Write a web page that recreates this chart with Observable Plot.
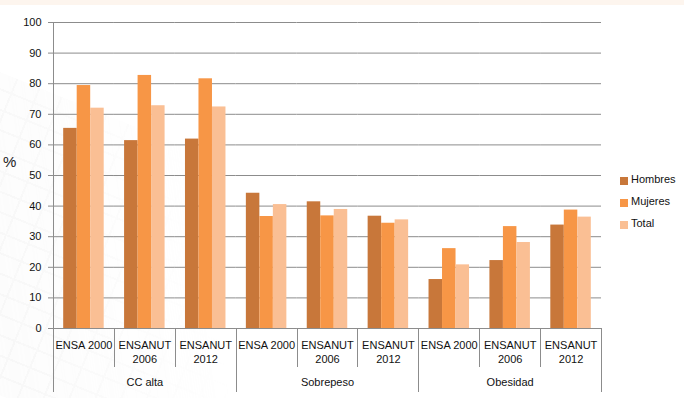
<!DOCTYPE html>
<html><head><meta charset="utf-8">
<script src="https://cdn.jsdelivr.net/npm/d3@7"></script>
<script src="https://cdn.jsdelivr.net/npm/@observablehq/plot@0.6"></script>
<style>
body{margin:0;background:#fff;font-family:"Liberation Sans",sans-serif}
#wrap{position:relative;width:684px;height:398px;overflow:hidden;background:#fff}
#band{position:absolute;left:0;top:0;width:684px;height:5px;background:#fdf5ee}
#tiles{position:absolute;left:-120px;top:120px;width:420px;height:300px;transform:rotate(22deg);
  background-image:repeating-linear-gradient(0deg,transparent 0 17px,#ececec 17px 19px),repeating-linear-gradient(90deg,transparent 0 22px,#ececec 22px 24px);
  background-color:#f8f8f8;opacity:.55;
  -webkit-mask-image:linear-gradient(60deg,rgba(0,0,0,1) 0%,rgba(0,0,0,.6) 40%,rgba(0,0,0,0) 75%);
  mask-image:linear-gradient(60deg,rgba(0,0,0,1) 0%,rgba(0,0,0,.6) 40%,rgba(0,0,0,0) 75%)}
#chart{position:absolute;left:0;top:0}
#pct{position:absolute;left:3px;top:153px;font-size:15px;color:#222}
#legend{position:absolute;left:620px;top:173px;font-size:11px;color:#111}
#legend div{height:22px;display:flex;align-items:flex-start}
#legend span.sw{display:inline-block;width:8px;height:8px;margin-top:4px;margin-right:3px}
</style></head>
<body>
<div id="wrap"><div id="band"></div><div id="tiles"></div><div id="chart"></div><div id="pct">%</div><div id="legend"></div></div>
<script>
const categories = ["CC alta", "Sobrepeso", "Obesidad"];
const surveys = ["ENSA 2000", "ENSANUT\n2006", "ENSANUT\n2012"];
const series = ["Hombres", "Mujeres", "Total"];
const hombres = [65.4, 61.4, 61.9, 44.2, 41.4, 36.7, 16.0, 22.2, 33.8];
const mujeres = [79.4, 82.7, 81.6, 36.6, 36.8, 34.4, 26.1, 33.3, 38.7];
const total   = [72.0, 72.8, 72.4, 40.5, 38.9, 35.5, 20.8, 28.1, 36.4];
const yTicks = [0, 10, 20, 30, 40, 50, 60, 70, 80, 90, 100];
const colors = ["#c8773a", "#f79646", "#fabf94"];

const keys = [];
const surveyLabels = [];
const catLabels = [];
categories.forEach((c, i) => surveys.forEach((s, j) => {
  const k = c + "|" + s;
  keys.push(k);
  surveyLabels.push({key: k, label: s});
  if (j === 1) catLabels.push({key: k, label: c});
}));
const values = [hombres, mujeres, total];
const rows = [];
keys.forEach((k, idx) => series.forEach((s, si) => rows.push({key: k, series: s, value: values[si][idx]})));

const grid = "#8c8c8c";
const plot = Plot.plot({
  width: 684, height: 398,
  marginLeft: 53, marginRight: 83, marginTop: 22, marginBottom: 70,
  style: {fontFamily: "Liberation Sans, sans-serif", fontSize: "11px", background: "transparent", color: "#111"},
  fx: {domain: keys, padding: 0, round: false, axis: null},
  x: {domain: series, paddingInner: 0, paddingOuter: 0.755, round: false, axis: null},
  y: {domain: [0, 100], axis: null},
  color: {domain: series, range: colors},
  marks: [
    Plot.gridY(yTicks, {stroke: grid, strokeOpacity: 1}),
    Plot.axisY(yTicks, {tickSize: 5, tickPadding: 7, label: null, stroke: grid, fill: "#111", fontSize: 11}),
    Plot.barY(rows, {fx: "key", x: "series", y: "value", fill: "series"}),
    Plot.ruleY([0], {stroke: grid}),
    Plot.text(surveyLabels, {fx: "key", text: "label", frameAnchor: "bottom", lineAnchor: "top", dy: 10, lineHeight: 1.3, fill: "#111"}),
    Plot.text(catLabels, {fx: "key", text: "label", frameAnchor: "bottom", lineAnchor: "middle", dy: 54, fill: "#111"})
  ]
});
document.getElementById("chart").appendChild(plot);

// group separators below the axis, placed with the plot's own scales
const fx = plot.scale("fx"), y = plot.scale("y");
const y0 = y.apply(0);
const svg = d3.select(plot.tagName.toLowerCase() === "svg" ? plot : plot.querySelector("svg"));
const edges = keys.map((k, i) => ({x: fx.apply(k), long: i % 3 === 0}));
edges.push({x: fx.apply(keys[keys.length - 1]) + fx.bandwidth, long: true});
svg.append("g").selectAll("line").data(edges).join("line")
  .attr("x1", d => Math.round(d.x) + 0.5).attr("x2", d => Math.round(d.x) + 0.5)
  .attr("y1", (d, i) => i === 0 ? y.apply(100) : y0)
  .attr("y2", d => y0 + (d.long ? 64 : 39))
  .attr("stroke", grid);

const lg = document.getElementById("legend");
series.forEach((s, i) => {
  const d = document.createElement("div");
  d.innerHTML = `<span class="sw" style="background:${colors[i]}"></span>${s}`;
  lg.appendChild(d);
});
</script>
</body></html>
